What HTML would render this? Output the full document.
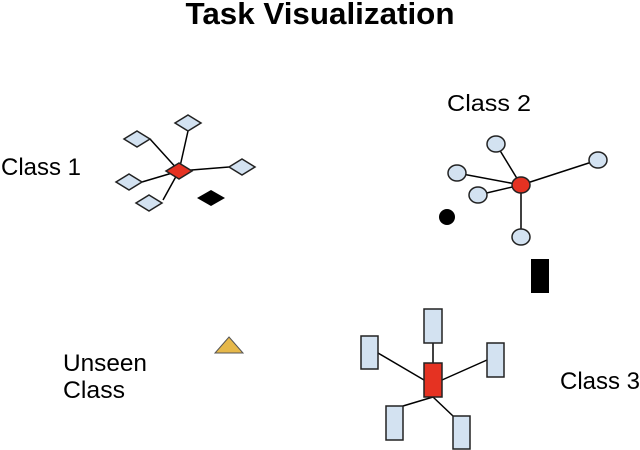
<!DOCTYPE html>
<html><head><meta charset="utf-8"><style>
html,body{margin:0;padding:0;background:#fff;width:640px;height:450px;overflow:hidden}
svg{display:block}
text{font-family:"Liberation Sans",Arial,sans-serif;fill:#000}
</style></head><body>
<svg width="640" height="450" viewBox="0 0 640 450" xmlns="http://www.w3.org/2000/svg">
<text x="320" y="24" font-size="31" font-weight="bold" text-anchor="middle" textLength="269" lengthAdjust="spacingAndGlyphs">Task Visualization</text>
<text x="1" y="175" font-size="24" textLength="80" lengthAdjust="spacingAndGlyphs">Class 1</text>
<text x="447" y="111" font-size="23" textLength="84" lengthAdjust="spacingAndGlyphs">Class 2</text>
<text x="63" y="371" font-size="24" textLength="84" lengthAdjust="spacingAndGlyphs">Unseen</text>
<text x="63" y="398" font-size="24" textLength="62" lengthAdjust="spacingAndGlyphs">Class</text>
<text x="560" y="389" font-size="24" textLength="80" lengthAdjust="spacingAndGlyphs">Class 3</text>

<g stroke="#000" stroke-width="1.5" fill="none">
<line x1="179" y1="171" x2="188" y2="131"/>
<line x1="179" y1="171" x2="150" y2="139"/>
<line x1="179" y1="171" x2="142" y2="182"/>
<line x1="179" y1="171" x2="163" y2="200"/>
<line x1="179" y1="171" x2="229" y2="167"/>
<line x1="521" y1="185" x2="496" y2="144"/>
<line x1="521" y1="185" x2="457" y2="173"/>
<line x1="521" y1="185" x2="478" y2="195"/>
<line x1="521" y1="185" x2="598" y2="160"/>
<line x1="521" y1="185" x2="521" y2="237"/>
<line x1="433" y1="343" x2="433" y2="363"/>
<line x1="378" y1="353" x2="424" y2="380"/>
<line x1="487" y1="360" x2="442" y2="380"/>
<line x1="403" y1="406" x2="433" y2="397"/>
<line x1="453" y1="416" x2="433" y2="397"/>
</g>
<g stroke="#222" stroke-width="1.5" fill="#d3e2f1">
<polygon points="188,115 201,123 188,131 175,123"/>
<polygon points="137,131 150,139 137,147 124,139"/>
<polygon points="129,174 142,182 129,190 116,182"/>
<polygon points="149,195 162,203 149,211 136,203"/>
<polygon points="242,159 255,167 242,175 229,167"/>
<ellipse cx="496" cy="144" rx="9" ry="8"/>
<ellipse cx="457" cy="173" rx="9" ry="8"/>
<ellipse cx="478" cy="195" rx="9" ry="8"/>
<ellipse cx="598" cy="160" rx="9" ry="8"/>
<ellipse cx="521" cy="237" rx="9" ry="8"/>
<rect x="424" y="309" width="18" height="34"/>
<rect x="361" y="336" width="17" height="33"/>
<rect x="487" y="343" width="17" height="34"/>
<rect x="386" y="406" width="17" height="34"/>
<rect x="453" y="416" width="17" height="33"/>
</g>
<g stroke="#222" stroke-width="1.5" fill="#e53222">
<polygon points="179,163 192,171 179,179 166,171"/>
<ellipse cx="521" cy="185" rx="9" ry="8"/>
<rect x="424" y="363" width="18" height="34"/>
</g>
<polygon points="211,190 225,198 211,206 197,198" fill="#000"/>
<circle cx="447" cy="217" r="8" fill="#000"/>
<rect x="531" y="259" width="18" height="34" fill="#000"/>
<polygon points="229,337 243,353 215,353" fill="#e6b84a" stroke="#555" stroke-width="1"/>
</svg>
</body></html>
